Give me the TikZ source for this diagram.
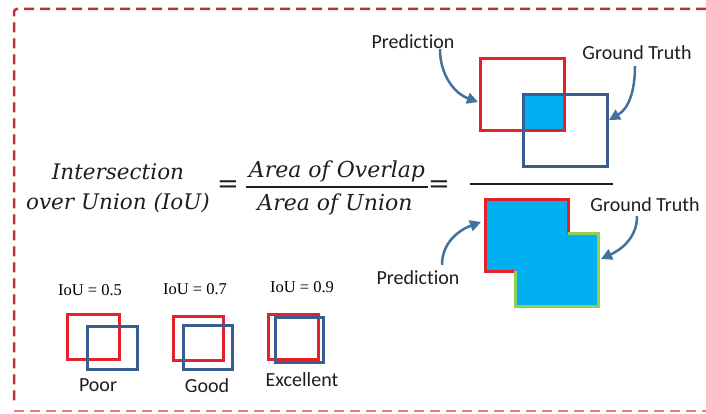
\documentclass[tikz,border=0pt]{standalone}
\usepackage{fontspec}
\setsansfont{Carlito}[Ligatures=NoCommon]
\newfontfamily\iouserif{Liberation Serif}
\newfontfamily\ioumath{DejaVu Serif}
\usetikzlibrary{arrows.meta,positioning}
\definecolor{iored}{HTML}{E3222B}
\definecolor{ioblue}{HTML}{3B5E91}
\definecolor{iocyan}{HTML}{00B0F0}
\definecolor{iogreen}{HTML}{92D050}
\definecolor{ioarrow}{HTML}{41719C}
\definecolor{ioframe}{HTML}{C0313C}
\definecolor{ioframelow}{HTML}{EE7B6E}
\definecolor{ioink}{HTML}{1E1E1E}
\tikzset{
  io label/.style={font=\sffamily\fontsize{20}{22}\selectfont, text=ioink, inner sep=0pt},
  io eq/.style={font=\ioumath\itshape\fontsize{21.5}{30}\selectfont, text=ioink, align=center, inner sep=0pt},
  io sign/.style={font=\ioumath\fontsize{26}{26}\selectfont, text=ioink, inner sep=0pt},
  io score/.style={font=\iouserif\fontsize{16.5}{18}\selectfont, text=black, inner sep=0pt},
  io pred/.style={draw=iored, line width=3pt},
  io truth/.style={draw=ioblue, line width=3pt},
  io arrow/.style={-{Triangle[length=11pt,width=11pt]}, line width=2.5pt, draw=ioarrow},
  io frame/.style={line width=2.5pt, dash pattern=on 10pt off 6pt}
}
\begin{document}
\begin{tikzpicture}[x=1pt, y=-1pt]
  \useasboundingbox (0,0) rectangle (706,414);
  % dashed frame
  \draw[io frame, draw=ioframe, rounded corners=3pt] (706,9) -- (14,9) -- (14,406);
  \draw[io frame, draw=ioframelow] (14,411) -- (706,411);

  % formula
  \node[io eq] (lhs) at (118,188) {Intersection\\over Union (IoU)};
  \node[io sign] (eqone) at (228,187) {=};
  \node[io eq, font=\ioumath\itshape\fontsize{22}{24}\selectfont] (num) at (337,171) {Area of Overlap};
  \node[io eq, font=\ioumath\itshape\fontsize{22}{24}\selectfont] (den) at (335,204) {Area of Union};
  \draw[ioink, line width=1.6pt] (246,187) -- (428,187);
  \node[io sign] (eqtwo) at (439,187) {=};
  \draw[ioink, line width=1.6pt] (470,184) -- (613,184);

  % overlap (numerator)
  \fill[iocyan] (523,95) rectangle (564,131);
  \draw[io pred] (480,59) rectangle (564,131);
  \draw[io truth] (523,95) rectangle (607,167);
  \node[io label] (predtop) at (413,42) {Prediction};
  \node[io label] (gttop) at (637,53) {Ground Truth};
  \coordinate (predtoptip) at (478,102);
  \coordinate (gttoptip) at (609,120);
  \draw[io arrow] (predtop.south) ++(27,0) coordinate (predtopfoot)
    (predtopfoot) to[out=-90, in=160] (predtoptip);
  \draw[io arrow] (gttop.south) ++(-2,6) coordinate (gttopfoot)
    (gttopfoot) to[out=-90, in=30] (gttoptip);

  % union (denominator)
  \fill[iocyan] (485,199) -- (568,199) -- (568,233) -- (598,233) -- (598,306)
    -- (515,306) -- (515,271) -- (485,271) -- cycle;
  \draw[io pred, line join=miter] (515,271) -- (485,271) -- (485,199) -- (568,199) -- (568,233);
  \draw[draw=iogreen, line width=3pt] (568,233) -- (598,233) -- (598,306) -- (515,306) -- (515,271);
  \node[io label] (gtlow) at (645,205) {Ground Truth};
  \node[io label] (predlow) at (418,278) {Prediction};
  \coordinate (gtlowtip) at (601,259);
  \coordinate (predlowtip) at (481,222);
  \draw[io arrow] (gtlow.south) ++(-8,4) coordinate (gtlowfoot)
    (gtlowfoot) to[out=-90, in=25] (gtlowtip);
  \draw[io arrow] (predlow.north) ++(24,-6) coordinate (predlowfoot)
    (predlowfoot) to[out=90, in=200] (predlowtip);

  % examples
  \node[io score] (scorea) at (90,290) {IoU = 0.5};
  \node[io score] (scoreb) at (195,289) {IoU = 0.7};
  \node[io score] (scorec) at (302,287) {IoU = 0.9};
  \draw[io pred] (67,314) rectangle (119,359);
  \draw[io truth] (87,326) rectangle (137,369);
  \draw[io pred] (173,316) rectangle (223,360);
  \draw[io truth] (183,325) rectangle (232,369);
  \draw[io pred] (268,314) rectangle (318,359);
  \draw[io truth] (275,317) rectangle (323,362);
  \node[io label] (poor) at (98,385) {Poor};
  \node[io label] (good) at (207,386) {Good};
  \node[io label] (excellent) at (302,380) {Excellent};
\end{tikzpicture}
\end{document}
